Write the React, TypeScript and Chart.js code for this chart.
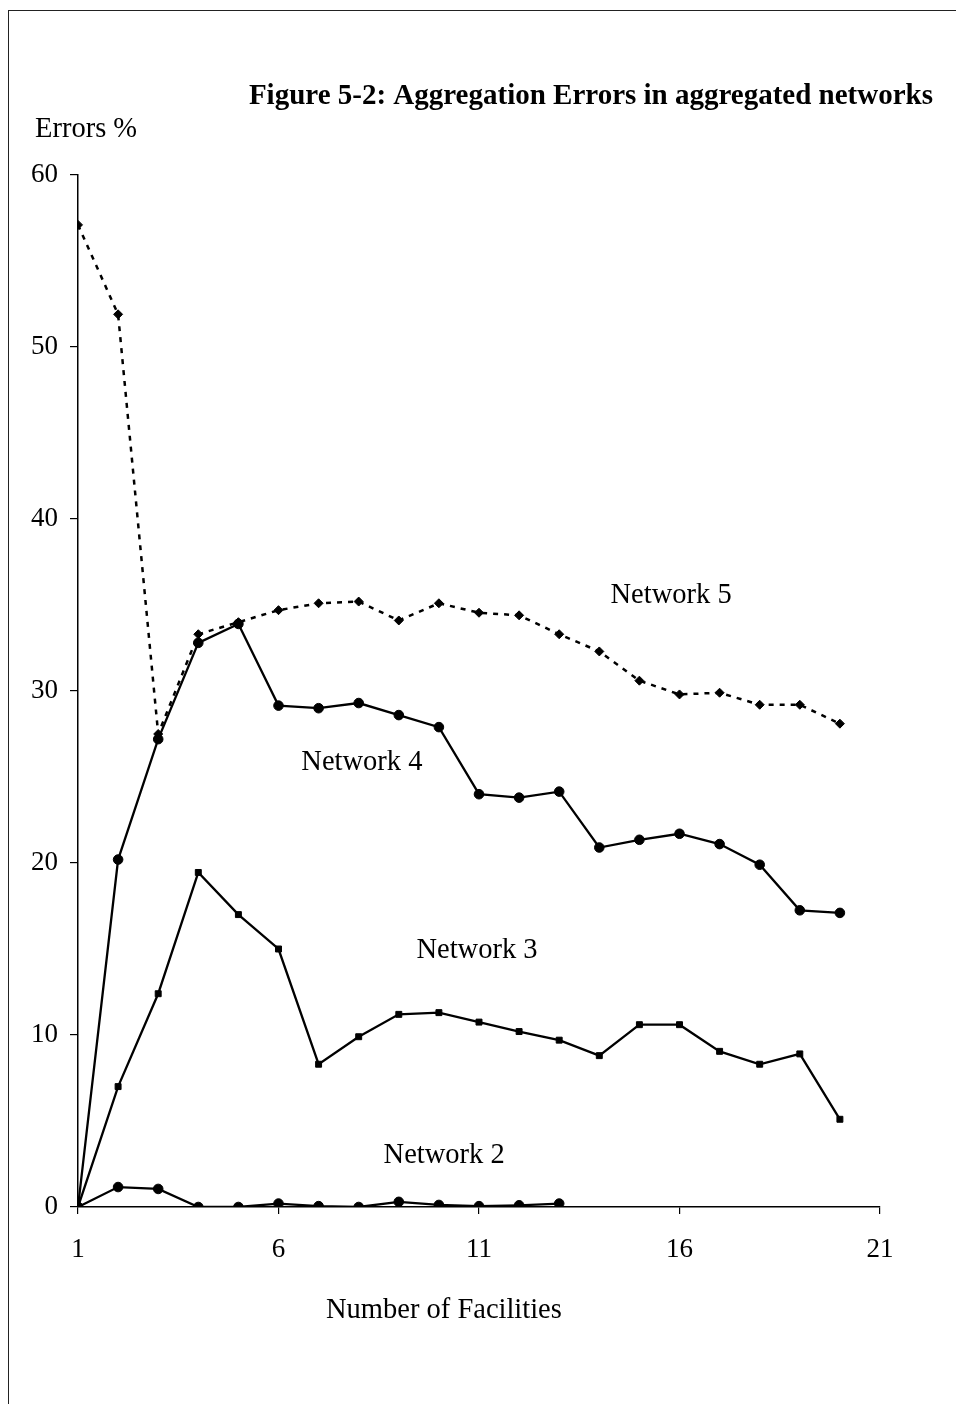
import React, { useEffect, useRef } from 'react';
import { Chart, registerables } from 'chart.js';

Chart.register(...registerables);

// ---- Data ----
const facilities = [1, 2, 3, 4, 5, 6, 7, 8, 9, 10, 11, 12, 13, 14, 15, 16, 17, 18, 19, 20];
const network5 = [57.1, 51.9, 27.5, 33.3, 34.0, 34.7, 35.1, 35.2, 34.1, 35.1, 34.55, 34.4, 33.3, 32.3, 30.6, 29.8, 29.9, 29.2, 29.2, 28.1];
const network4 = [0, 20.2, 27.2, 32.8, 33.9, 29.15, 29.0, 29.3, 28.6, 27.9, 24.0, 23.8, 24.15, 20.9, 21.35, 21.7, 21.1, 19.9, 17.25, 17.1];
const network3 = [0, 7.0, 12.4, 19.45, 17.0, 15.0, 8.3, 9.9, 11.2, 11.3, 10.75, 10.2, 9.7, 8.8, 10.6, 10.6, 9.05, 8.3, 8.9, 5.1];
const network2 = [0, 1.16, 1.05, 0, 0, 0.2, 0.05, 0, 0.3, 0.12, 0.05, 0.1, 0.2];

const xTicks = [1, 6, 11, 16, 21];
const yTicks = [0, 10, 20, 30, 40, 50, 60];

const seriesNames = ['Network 5', 'Network 4', 'Network 3', 'Network 2'];
// label anchor (data coordinates: x = facilities, y = text baseline in %)
const labelAtX = [15.79, 8.08, 10.95, 10.13];
const labelAtY = [35.1, 25.4, 14.5, 2.56];

const chartTitle = 'Figure 5-2: Aggregation Errors in aggregated networks';
const yTitle = 'Errors %';
const xTitle = 'Number of Facilities';

const SERIF = '"Liberation Serif", "Times New Roman", serif';

const toPoints = (vals: number[]) => vals.map((v, i) => ({ x: facilities[i], y: v }));

const textPlugin = {
  id: 'figureText',
  afterDraw(chart: any) {
    const ctx = chart.ctx as CanvasRenderingContext2D;
    const xs = chart.scales.x;
    const ys = chart.scales.y;
    ctx.save();
    ctx.fillStyle = '#000';
    ctx.textBaseline = 'alphabetic';

    ctx.font = `bold 29px ${SERIF}`;
    ctx.textAlign = 'right';
    ctx.fillText(chartTitle, 933, 104);

    ctx.font = `28.5px ${SERIF}`;
    ctx.textAlign = 'left';
    ctx.fillText(yTitle, 35, 137);
    ctx.fillText(xTitle, 326, 1318);

    ctx.textAlign = 'center';
    seriesNames.forEach((name, i) => {
      ctx.fillText(name, xs.getPixelForValue(labelAtX[i]), ys.getPixelForValue(labelAtY[i]));
    });
    ctx.restore();
  },
};

export default function App() {
  const ref = useRef<HTMLCanvasElement | null>(null);

  useEffect(() => {
    if (!ref.current) return;
    const lineCommon = {
      borderColor: '#000',
      backgroundColor: '#000',
      pointBorderColor: '#000',
      pointBackgroundColor: '#000',
      fill: false,
      tension: 0,
    };
    const chart = new Chart(ref.current, {
      type: 'line',
      data: {
        datasets: [
          {
            ...lineCommon,
            label: seriesNames[0],
            data: toPoints(network5),
            borderWidth: 2.5,
            borderDash: [5, 6],
            pointStyle: 'rectRot',
            pointRadius: 4.5,
            pointBorderWidth: 1,
          },
          {
            ...lineCommon,
            label: seriesNames[1],
            data: toPoints(network4),
            borderWidth: 2.3,
            pointStyle: 'circle',
            pointRadius: 4.8,
            pointBorderWidth: 1,
          },
          {
            ...lineCommon,
            label: seriesNames[2],
            data: toPoints(network3),
            borderWidth: 2.3,
            pointStyle: 'rect',
            pointRadius: 4.2,
            pointBorderWidth: 1,
          },
          {
            ...lineCommon,
            label: seriesNames[3],
            data: toPoints(network2),
            borderWidth: 2.3,
            pointStyle: 'circle',
            pointRadius: 4.8,
            pointBorderWidth: 1,
          },
        ],
      },
      options: {
        responsive: false,
        animation: false,
        devicePixelRatio: 1,
        layout: { padding: { left: 0, top: 175, right: 76, bottom: 0 } },
        plugins: {
          legend: { display: false },
          title: { display: false },
          tooltip: { enabled: false },
        },
        scales: {
          x: {
            type: 'linear',
            min: 1,
            max: 21,
            afterFit: (s: any) => { s.height = 197; },
            afterBuildTicks: (s: any) => { s.ticks = xTicks.map((v) => ({ value: v })); },
            ticks: {
              color: '#000',
              font: { family: SERIF, size: 27 },
              padding: 20,
              maxRotation: 0,
              autoSkip: false,
            },
            grid: { display: true, drawOnChartArea: false, drawTicks: true, tickLength: 7, color: '#000', lineWidth: 1.2 },
            border: { display: true, color: '#000', width: 1.5 },
          },
          y: {
            type: 'linear',
            min: 0,
            max: 60,
            afterFit: (s: any) => { s.width = 78; },
            afterBuildTicks: (s: any) => { s.ticks = yTicks.map((v) => ({ value: v })); },
            ticks: {
              color: '#000',
              font: { family: SERIF, size: 27 },
              padding: 12,
              autoSkip: false,
            },
            grid: { display: true, drawOnChartArea: false, drawTicks: true, tickLength: 8, color: '#000', lineWidth: 1.2 },
            border: { display: true, color: '#000', width: 1.5 },
          },
        },
      },
      plugins: [textPlugin],
    });
    return () => chart.destroy();
  }, []);

  return (
    <div style={{ position: 'fixed', left: 0, top: 0, width: 956, height: 1404, background: '#fff' }}>
      <canvas ref={ref} width={956} height={1404} style={{ position: 'absolute', left: 0, top: 0, width: 956, height: 1404 }} />
      <div
        style={{
          position: 'absolute',
          left: 8,
          top: 10,
          width: 948,
          height: 1394,
          borderLeft: '1.5px solid #222',
          borderTop: '1.5px solid #222',
          boxSizing: 'border-box',
          pointerEvents: 'none',
        }}
      />
    </div>
  );
}
